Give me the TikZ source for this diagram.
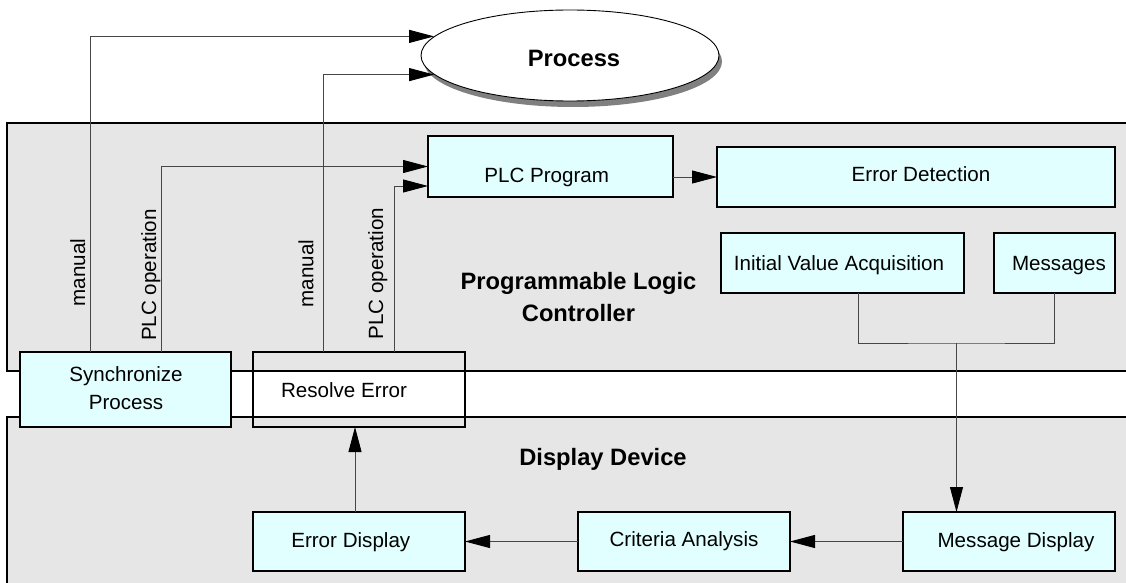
\documentclass[tikz,border=0pt]{standalone}
\usepackage{fontspec}
\setmainfont{Liberation Sans}
\usetikzlibrary{arrows.meta,calc,shapes.geometric,shadows}
\definecolor{regionfill}{RGB}{230,230,230}
\definecolor{boxfill}{RGB}{225,255,255}
\definecolor{shadowgray}{RGB}{128,128,128}
\definecolor{wirecol}{RGB}{70,70,70}

\begin{document}
\begin{tikzpicture}[x=1pt,y=-1pt,
  regionedge/.style={line width=1.7pt},
  box/.style={draw, line width=1.3pt, fill=boxfill, inner sep=0pt, outer sep=0pt},
  openbox/.style={draw, line width=1.3pt, inner sep=0pt, outer sep=0pt},
  txt/.style={anchor=base, inner sep=0pt, font=\fontsize{20.6}{28}\selectfont},
  title/.style={anchor=base, inner sep=0pt, align=center, font=\fontsize{23.7}{32}\selectfont\bfseries},
  vlabel/.style={txt, rotate=90},
  wire/.style={draw=wirecol, line width=0.9pt},
  arr/.style={wire, -{Triangle[length=25pt,width=13pt,color=black]}},
]
\useasboundingbox (0,0) rectangle (1126,583);
\clip (0,0) rectangle (1126,583);

% swim lanes
\fill[regionfill] (7,123) rectangle (1140,371);
\draw[regionedge] (1140,123) -- (7,123) -- (7,371) -- (1140,371);
\fill[regionfill] (7,417) rectangle (1140,600);
\draw[regionedge] (1140,417) -- (7,417) -- (7,600);

% the controlled process
\node[ellipse, draw, line width=0.9pt, fill=white, inner sep=0pt,
      minimum width=298pt, minimum height=91pt,
      drop shadow={shadow xshift=3pt, shadow yshift=-6pt, fill=shadowgray, opacity=1}]
      (proc) at (570,55.5) {};
\node[title] (proctxt) at (574,67) {Process};

% controller blocks
\node[box, minimum width=245pt, minimum height=61pt] (plc) at (550.5,166.5) {};
\node[txt] (plctxt) at (546.7,182.7) {PLC Program};
\node[box, minimum width=398pt, minimum height=60pt] (err) at (916,177) {};
\node[txt] (errtxt) at (921,181.7) {Error Detection};
\node[box, minimum width=243pt, minimum height=60pt] (iva) at (842.5,263) {};
\node[txt] (ivatxt) at (839,270) {Initial Value Acquisition};
\node[box, minimum width=121pt, minimum height=60pt] (msgs) at (1054.5,263) {};
\node[txt] (msgstxt) at (1059,270) {Messages};
% (base of a two-line label is the baseline of its last line)
\node[title] (plclane) at (578.5,321) {Programmable Logic\\Controller};

% blocks on the lane boundary
\node[box, minimum width=211pt, minimum height=75pt] (sync) at (125.5,389.5) {};
\node[txt, align=center] (synctxt) at (126,409) {Synchronize\\Process};
\node[openbox, minimum width=212pt, minimum height=75pt] (res) at (359,389.5) {};
\node[txt] (restxt) at (344,397) {Resolve Error};

% display device blocks
\node[title] (displane) at (603,465) {Display Device};
\node[box, minimum width=212pt, minimum height=59pt] (ed) at (359,541.5) {};
\node[txt] (edtxt) at (350.8,547) {Error Display};
\node[box, minimum width=212pt, minimum height=59pt] (ca) at (684,541.5) {};
\node[txt] (catxt) at (684,546.7) {Criteria Analysis};
\node[box, minimum width=212pt, minimum height=59pt] (md) at (1009,541.5) {};
\node[txt] (mdtxt) at (1016,547) {Message Display};

% connectors
\draw[arr] ($(sync.north west)+(70.7,0)$) |- (proc.172.6);
\draw[arr] ($(sync.north west)+(141,0)$) |- (plc.west);
\draw[arr] ($(res.north west)+(70.3,0)$) |- (proc.188.8);
\draw[arr] ($(res.north west)+(141.3,0)$) |- ($(plc.west)+(0,19.5)$);
\draw[arr] (plc.east |- err.west) -- (err.west);

\coordinate (join) at (956.5,343);
\draw[wire] ($(iva.south)+(15.5,0)$) |- (join) -| (msgs.south);
\draw[arr] (join) -- (join |- md.north);
\draw[arr] (md.west) -- (ca.east);
\draw[arr] (ca.west) -- (ed.east);
\draw[arr] ($(ed.north)+(-4,0)$) -- ($(res.south)+(-4,0)$);

% connector labels
\node[vlabel] (lblman1) at (85,272.5) {manual};
\node[vlabel] (lblplc1) at (156,275) {PLC operation};
\node[vlabel] (lblman2) at (313.3,273.5) {manual};
\node[vlabel] (lblplc2) at (383,273.8) {PLC operation};
\end{tikzpicture}
\end{document}
